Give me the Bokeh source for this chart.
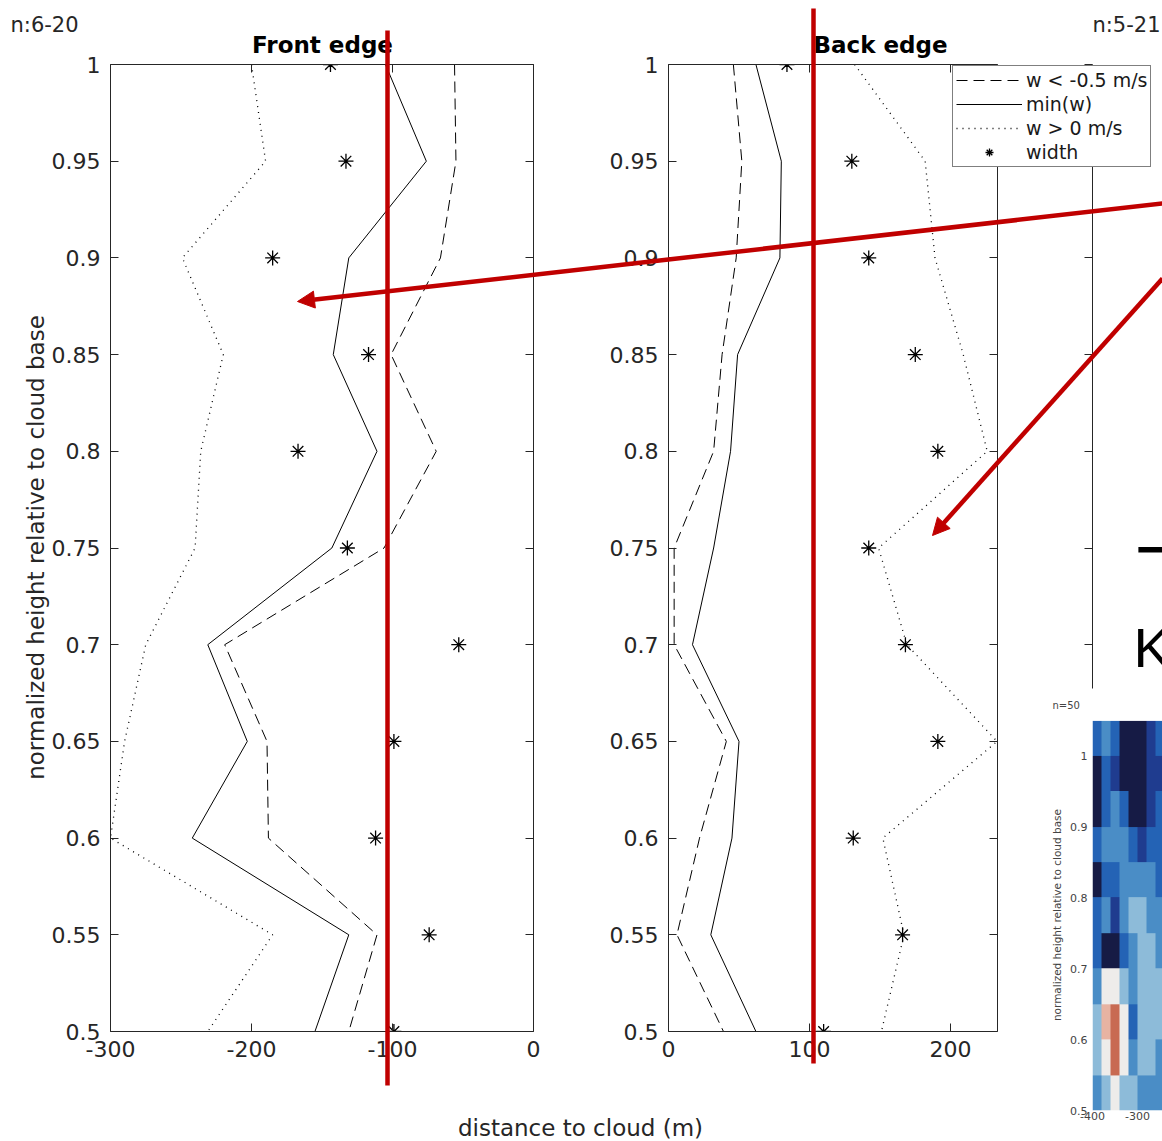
import math
import numpy as np
from bokeh.plotting import figure
from bokeh.models import (Range1d, LinearAxis, FixedTicker, Legend, LegendItem,
                          Label, Arrow, NormalHead, GridBox, LinearColorMapper)
from bokeh.embed import file_html
from bokeh.resources import INLINE

# ---------------- data ----------------
heights = [1.0, 0.95, 0.9, 0.85, 0.8, 0.75, 0.7, 0.65, 0.6, 0.55, 0.5]

front_w_lt = [-56, -55, -66, -101, -69, -106, -219, -189, -188, -111, -131]
front_min_w = [-105, -76, -131, -142, -111, -143, -231, -203, -242, -131, -155]
front_w_gt = [-200, -190, -249, -220, -236, -240, -275, -290, -300, -185, -231]
front_width = [-144, -133, -185, -117, -167, -132, -53, -99, -112, -74, -99]

back_w_lt = [46, 52, 48, 38, 32, 4, 4, 41, 22, 6, 39]
back_min_w = [62, 80, 79, 49, 44, 32, 17, 50, 45, 30, 62]
back_w_gt = [132, 182, 189, 209, 226, 149, 169, 233, 152, 167, 151]
back_width = [84, 130, 142, 175, 191, 142, 168, 191, 131, 166, 110]

y_ticks = [0.5, 0.55, 0.6, 0.65, 0.7, 0.75, 0.8, 0.85, 0.9, 0.95, 1.0]
y_tick_labels = ["0.5", "0.55", "0.6", "0.65", "0.7", "0.75", "0.8", "0.85", "0.9", "0.95", "1"]
front_x_ticks = [-300, -200, -100, 0]
front_x_tick_labels = ["-300", "-200", "-100", "0"]
back_x_ticks = [0, 100, 200]
back_x_tick_labels = ["0", "100", "200"]
legend_labels = ["w < -0.5 m/s", "min(w)", "w > 0 m/s", "width"]

# third (partially visible) panel
third_y_ticks = [0.7, 0.75, 0.8, 0.85, 0.9, 0.95, 1.0]

# inset contour picture (levels, rows from top = 1.025 down to 0.525, cols -390 .. -250)
inset_levels = [
    [2, 3, 2, 0, 0, 0, 1, 2],
    [0, 2, 1, 0, 0, 0, 1, 1],
    [0, 2, 3, 2, 0, 0, 1, 2],
    [2, 3, 3, 3, 2, 1, 2, 2],
    [0, 2, 2, 3, 3, 3, 3, 2],
    [2, 3, 1, 3, 4, 4, 3, 3],
    [2, 0, 0, 2, 3, 4, 4, 3],
    [3, 5, 5, 4, 3, 4, 4, 4],
    [4, 6, 7, 5, 2, 4, 4, 4],
    [4, 5, 7, 5, 3, 4, 4, 3],
    [3, 4, 5, 4, 4, 3, 3, 3],
]
inset_palette = ["#161b45", "#1f3c8f", "#2463b5", "#4a8dc6", "#8dbbd9",
                 "#eeecea", "#e7b3a2", "#c86a52"]
inset_y_ticks = [0.5, 0.6, 0.7, 0.8, 0.9, 1.0]
inset_y_tick_labels = ["0.5", "0.6", "0.7", "0.8", "0.9", "1"]
inset_x_ticks = [-400, -300]
inset_x_tick_labels = ["-400", "-300"]

# ---------------- styling / layout ----------------
W, H = 1162, 1141
INK = "#262626"
FONT = "DejaVu Sans"
RED = "#c00000"
DASH = "11 6"
DOT = "1 5"


def make_fig(xr, yr, left, right, top, bottom):
    p = figure(width=W, height=H, x_range=xr, y_range=yr,
               x_axis_type=None, y_axis_type=None,
               output_backend="svg", toolbar_location=None,
               min_border_left=left, min_border_right=right,
               min_border_top=top, min_border_bottom=bottom)
    p.border_fill_alpha = 0
    p.background_fill_alpha = 0
    p.outline_line_color = None
    return p


def add_axis(p, side, ticks, labels, show=True, size="22px", tin=8, tout=0,
             standoff=9, color=INK, line=True):
    ax = LinearAxis(ticker=FixedTicker(ticks=ticks))
    ax.major_label_overrides = {t: (l if show else "") for t, l in zip(ticks, labels)}
    ax.axis_line_color = INK if line else None
    ax.major_tick_line_color = INK if (tin or tout) else None
    ax.minor_tick_line_color = None
    ax.major_tick_in = tin
    ax.major_tick_out = tout
    ax.major_label_text_font = FONT
    ax.major_label_text_font_size = size
    ax.major_label_text_color = color
    ax.major_label_standoff = standoff
    p.add_layout(ax, side)
    return ax


def line_styles():
    return [dict(line_color="black", line_width=1, line_dash=DASH),
            dict(line_color="black", line_width=1),
            dict(line_color="black", line_width=1.3, line_dash=DOT)]


STAR = dict(marker="asterisk", size=15, line_color="black", line_width=1.3)


def draw_panel(p, w_lt, min_w, w_gt, width):
    s = line_styles()
    p.line(w_lt, heights, **s[0])
    p.line(min_w, heights, **s[1])
    p.line(w_gt, heights, **s[2])
    p.scatter(width, heights, **STAR)


# Front edge panel: frame x 110..533, y 64..1031
p1 = make_fig(Range1d(-300, 0), Range1d(0.5, 1.0), 110, 629, 64, 110)
add_axis(p1, "below", front_x_ticks, front_x_tick_labels)
add_axis(p1, "left", y_ticks, y_tick_labels, standoff=10)
add_axis(p1, "above", front_x_ticks, front_x_tick_labels, show=False)
add_axis(p1, "right", y_ticks, y_tick_labels, show=False)
draw_panel(p1, front_w_lt, front_min_w, front_w_gt, front_width)

# Back edge panel: frame x 668..997
p2 = make_fig(Range1d(0, 233.3), Range1d(0.5, 1.0), 668, 165, 64, 110)
add_axis(p2, "below", back_x_ticks, back_x_tick_labels)
add_axis(p2, "left", y_ticks, y_tick_labels, standoff=10)
add_axis(p2, "above", back_x_ticks, back_x_tick_labels, show=False)
add_axis(p2, "right", y_ticks, y_tick_labels, show=False)
draw_panel(p2, back_w_lt, back_min_w, back_w_gt, back_width)

# partially visible third panel (axis only)
p3 = make_fig(Range1d(0, 1), Range1d(1 - (688 - 64) / 967 * 0.5, 1.0), 1092, 0, 64, 453)
add_axis(p3, "left", third_y_ticks, [""] * len(third_y_ticks), show=False, tin=0, tout=8)

# inset contour picture
p4 = make_fig(Range1d(-400, -400 + 70 / 0.45), Range1d(0.5, 1.052), 1092, 0, 719, 31)
ay = add_axis(p4, "left", inset_y_ticks, inset_y_tick_labels, size="11px", tin=0, tout=0,
              standoff=5, color="#444444", line=False)
ay.axis_label = "normalized height relative to cloud base"
ay.axis_label_text_font = FONT
ay.axis_label_text_font_size = "10.5px"
ay.axis_label_text_font_style = "normal"
ay.axis_label_text_color = "#444444"
ay.axis_label_standoff = 4
add_axis(p4, "below", inset_x_ticks, inset_x_tick_labels, size="11px", tin=0, tout=0,
         standoff=1, color="#444444", line=False)
img = np.array(inset_levels[::-1], dtype=float)
cmap = LinearColorMapper(palette=inset_palette, low=-0.5, high=len(inset_palette) - 0.5)
p4.image(image=[img], x=-400, y=0.5, dw=160, dh=0.55, color_mapper=cmap)

# overlay with slide annotations (pixel coordinates of the page)
p0 = make_fig(Range1d(0, W), Range1d(H, 0), 0, 0, 0, 0)


def txt(x, y, t, size, align="left", baseline="middle", color=INK, style="normal",
        angle=0, font=FONT):
    p0.add_layout(Label(x=x, y=y, text=t, text_font=font, text_font_size=size,
                        text_align=align, text_baseline=baseline, text_color=color,
                        text_font_style=style, angle=angle))


txt(10, 24, "n:6-20", "21px")
txt(1160, 24, "n:5-21", "21px", align="right")
txt(322, 44, "Front edge", "23px", align="center", color="black", style="bold")
txt(880, 44, "Back edge", "23px", align="center", color="black", style="bold")
txt(580, 1127, "distance to cloud (m)", "23px", align="center")
txt(35, 547, "normalized height relative to cloud base", "23px", align="center",
    angle=math.pi / 2)
txt(1052, 705, "n=50", "10px", color="#444444")
txt(1134, 547, "→", "64px", color="black", font="DejaVu Sans")
txt(1133, 647, "K", "56px", baseline="alphabetic", color="black", font="Liberation Sans")

# legend of the back-edge panel (drawn on the overlay so it may extend past the frame);
# the proxy renderers hold no visible points, they only carry the styles
s = line_styles()
nan2 = np.array([np.nan, np.nan])
proxies = [p0.line(nan2, nan2, **s[0]), p0.line(nan2, nan2, **s[1]),
           p0.line(nan2, nan2, **s[2]), p0.scatter(nan2, nan2, **STAR)]
legend = Legend(items=[LegendItem(label=l, renderers=[r]) for l, r in zip(legend_labels, proxies)],
                location=(952, H - 167))
legend.border_line_color = "black"
legend.border_line_width = 1
legend.background_fill_color = "white"
legend.background_fill_alpha = 1
legend.label_text_font = FONT
legend.label_text_font_size = "19px"
legend.label_text_color = "#1a1a1a"
legend.glyph_width = 66
legend.glyph_height = 20
legend.label_height = 20
legend.label_standoff = 4
legend.spacing = 2
legend.padding = 3
legend.margin = 0
p0.add_layout(legend)

# red slide marks
for (xs, ys, xe, ye) in [(387, 30, 387, 1085), (813, 8, 813, 1063)]:
    p0.add_layout(Arrow(end=None, x_start=xs, y_start=ys, x_end=xe, y_end=ye,
                        line_color=RED, line_width=4.5))
for (xs, ys, xe, ye) in [(1162, 203, 297, 301), (1162, 278, 932, 535)]:
    p0.add_layout(Arrow(end=NormalHead(size=17, fill_color=RED, line_color=RED),
                        x_start=xs, y_start=ys, x_end=xe, y_end=ye,
                        line_color=RED, line_width=4.5))

# stack all canvases on the same origin: each child spans one full-size track,
# with unique start / end tracks so no frame alignment is imposed
stack = [p3, p4, p1, p2, p0]
n = len(stack)
tracks_r = ["0px"] * (n - 1) + [f"{H}px"] + ["0px"] * (n - 1)
tracks_c = ["0px"] * (n - 1) + [f"{W}px"] + ["0px"] * (n - 1)
layout = GridBox(children=[(f, i, i, n, n) for i, f in enumerate(stack)],
                 rows=tracks_r, cols=tracks_c, spacing=0)

open("out.html", "w").write(file_html(layout, INLINE))
